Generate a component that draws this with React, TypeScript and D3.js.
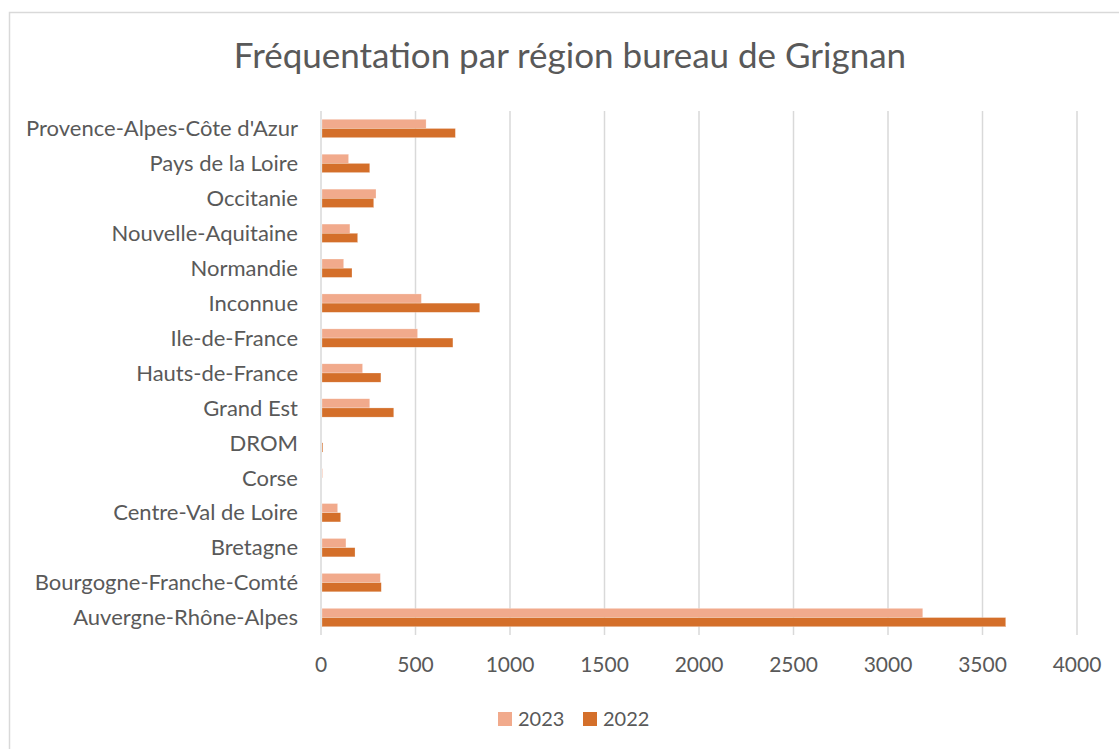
import * as d3 from 'd3';

const regions = [
  'Provence-Alpes-Côte d\'Azur',
  'Pays de la Loire',
  'Occitanie',
  'Nouvelle-Aquitaine',
  'Normandie',
  'Inconnue',
  'Ile-de-France',
  'Hauts-de-France',
  'Grand Est',
  'DROM',
  'Corse',
  'Centre-Val de Loire',
  'Bretagne',
  'Bourgogne-Franche-Comté',
  'Auvergne-Rhône-Alpes',
];

const values2023 = [556, 146, 291, 153, 120, 531, 511, 220, 258, 2, 8, 88, 132, 314, 3184];
const values2022 = [711, 258, 279, 194, 164, 840, 698, 317, 385, 10, 1, 104, 180, 319, 3623];

const seriesNames = ['2023', '2022'];
const xTicks = [0, 500, 1000, 1500, 2000, 2500, 3000, 3500, 4000];

const colors: Record<string, string> = { '2023': '#F1AA8C', '2022': '#D46F2A' };
const font = "Lato, 'Open Sans', sans-serif";
const textColor = '#595959';

export default function App() {
  const width = 1119;
  const height = 749;

  const x = d3.scaleLinear().domain([0, 4000]).range([321, 1077]);
  const y = d3.scaleBand<string>().domain(regions).range([111, 635]).padding(0);
  const ySub = d3.scaleBand<string>().domain(seriesNames).range([0, y.bandwidth()]).paddingInner(0).paddingOuter(0.9);

  const seriesValues: Record<string, number[]> = { '2023': values2023, '2022': values2022 };

  return (
    <svg width={width} height={height} style={{ position: 'absolute', left: 0, top: 0 }} fontFamily={font}>
      <rect x={0} y={0} width={width} height={height} fill="#fff" />
      <rect x={9.5} y={12.5} width={width + 20} height={height + 20} fill="none" stroke="#D9D9D9" strokeWidth={1.5} />

      <text x={570} y={68} textAnchor="middle" fontSize={35} fill={textColor}>
        Fréquentation par région bureau de Grignan
      </text>

      {/* gridlines */}
      {xTicks.map((t) => (
        <line key={t} x1={x(t)} x2={x(t)} y1={111} y2={635} stroke="#D9D9D9" strokeWidth={1.5} />
      ))}

      {/* bars */}
      {seriesNames.map((s) =>
        regions.map((r, i) => (
          <rect
            key={s + r}
            x={x(0) + 1}
            y={(y(r) ?? 0) + (ySub(s) ?? 0)}
            width={Math.max(0, x(seriesValues[s][i]) - x(0) - 1)}
            height={ySub.bandwidth()}
            fill={colors[s]}
            stroke="#fff"
            strokeOpacity={0.5}
            strokeWidth={0.5}
          />
        ))
      )}

      {/* category labels */}
      {regions.map((r) => (
        <text key={r} x={298} y={(y(r) ?? 0) + y.bandwidth() / 2} dy="0.35em" textAnchor="end" fontSize={22} fill={textColor}>
          {r}
        </text>
      ))}

      {/* x tick labels */}
      {xTicks.map((t) => (
        <text key={t} x={x(t)} y={665} dy="0.35em" textAnchor="middle" fontSize={21} fill={textColor}>
          {t}
        </text>
      ))}

      {/* legend */}
      {seriesNames.map((s, i) => (
        <g key={s} transform={`translate(${498 + i * 85}, 719)`}>
          <rect x={0} y={-7} width={14} height={14} fill={colors[s]} />
          <text x={20} y={0} dy="0.35em" fontSize={20} fill={textColor}>
            {s}
          </text>
        </g>
      ))}
    </svg>
  );
}
